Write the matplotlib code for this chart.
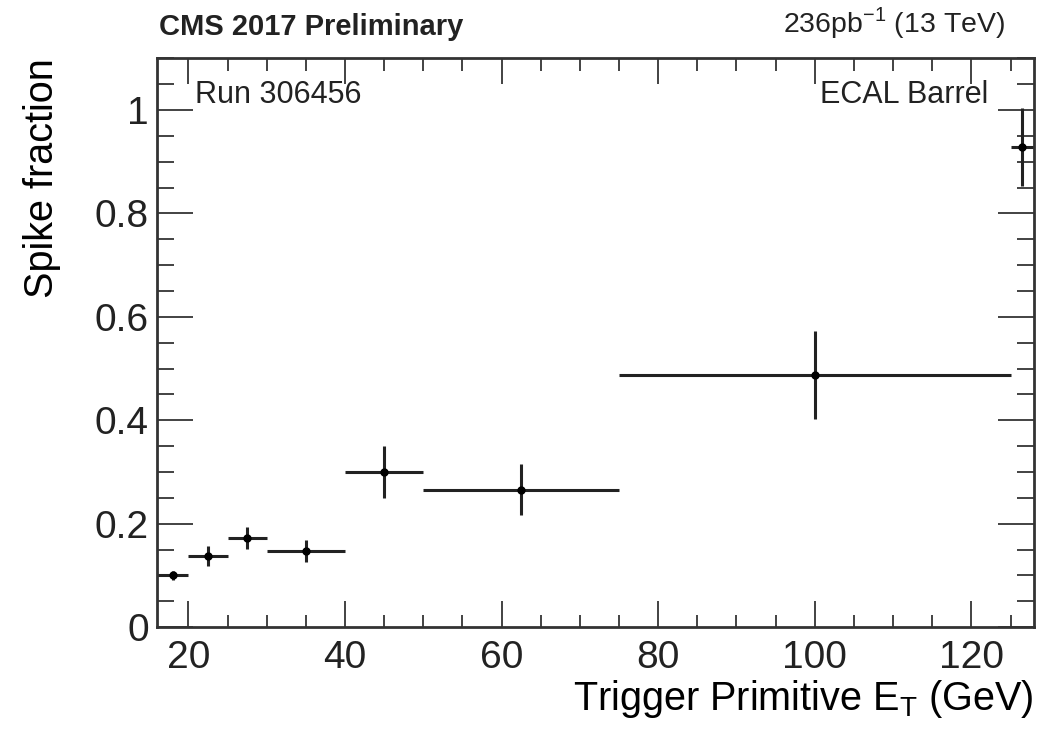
import numpy as np
import matplotlib.pyplot as plt
from matplotlib.ticker import MultipleLocator

# bins in trigger primitive E_T (GeV)
bin_low = [16, 20, 25, 30, 40, 50, 75, 125]
bin_high = [20, 25, 30, 40, 50, 75, 125, 128]
spike_frac = [0.10, 0.137, 0.172, 0.147, 0.300, 0.266, 0.488, 0.928]
frac_err = [0.008, 0.019, 0.021, 0.021, 0.051, 0.049, 0.085, 0.075]

plt.rcParams['font.family'] = ['Liberation Sans', 'DejaVu Sans']

lo = np.array(bin_low, dtype=float)
hi = np.array(bin_high, dtype=float)
centres = (lo + hi) / 2
xerr = (hi - lo) / 2

fig = plt.figure(figsize=(10.47, 7.37), dpi=100)
ax = fig.add_axes([0.150, 0.149, 0.8376, 0.772])

ax.errorbar(centres, spike_frac, xerr=xerr, yerr=frac_err, fmt='o', color='black',
            ecolor='#222222', elinewidth=2.2, markersize=5, capsize=0)

ax.set_xlim(16, 128)
ax.set_ylim(0, 1.1)
ax.xaxis.set_major_locator(MultipleLocator(20))
ax.xaxis.set_minor_locator(MultipleLocator(5))
ax.yaxis.set_major_locator(MultipleLocator(0.2))
ax.yaxis.set_minor_locator(MultipleLocator(0.05))
ax.tick_params(which='both', direction='in', top=True, right=True, labelsize=28, colors='#222222', width=1.2)
ax.tick_params(axis='x', which='major', length=19, pad=9)
ax.tick_params(axis='x', which='minor', length=9)
ax.tick_params(axis='y', which='major', length=26, pad=6)
ax.tick_params(axis='y', which='minor', length=12)
ax.yaxis.set_major_formatter(plt.FuncFormatter(lambda v, p: f'{v:g}'))
for s in ax.spines.values():
    s.set_linewidth(2)
    s.set_color('#333333')

ax.set_xlabel(r'Trigger Primitive E$_{\mathregular{T}}$ (GeV)', fontsize=28.5, loc='right', labelpad=2)
ax.set_ylabel('Spike fraction', fontsize=28.5, loc='top', labelpad=24)

ax.text(0.043, 0.962, 'Run 306456', transform=ax.transAxes, fontsize=22, va='top', ha='left', color='#222222')
ax.text(0.948, 0.962, 'ECAL Barrel', transform=ax.transAxes, fontsize=22, va='top', ha='right', color='#222222')

fig.text(0.152, 0.945, 'CMS 2017 Preliminary', fontsize=21, fontweight='bold', ha='left', va='bottom', color='#222222')
fig.text(0.960, 0.945, r'236pb$^{\mathregular{-1}}$ (13 TeV)', fontsize=20.5, ha='right', va='bottom', color='#222222')

fig.savefig('out.png', dpi=100)
